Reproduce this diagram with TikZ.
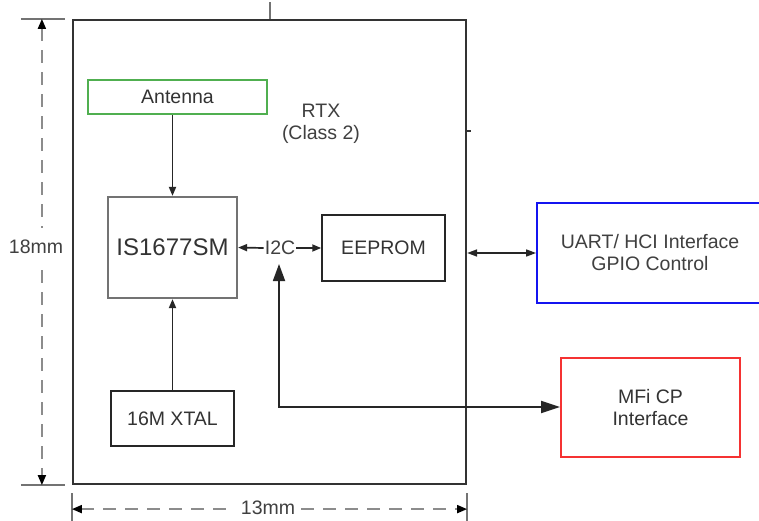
\documentclass[tikz,border=0pt]{standalone}
\usepackage{fontspec}
\setmainfont{Liberation Sans}
\usetikzlibrary{arrows.meta,positioning}
\definecolor{antgreen}{RGB}{80,175,80}
\definecolor{uartblue}{RGB}{20,20,240}
\definecolor{mfired}{RGB}{245,50,50}
\tikzset{
      blockbox/.style={
        draw=black!85,
        line width=1.5pt,
        fill=white,
        align=center,
        inner sep=0pt,
        text=black!80,
        font=\fontsize{19.5}{22}\selectfont
      },
      labeltext/.style={
        align=center,
        inner sep=1pt,
        text=black!75,
        font=\fontsize{19.5}{22}\selectfont
      },
      dimline/.style={draw=black!55, line width=1.8pt},
      dimarrow/.style={
        draw=black!45,
        line width=1.8pt,
        dash pattern=on 13pt off 9pt,
        {Triangle[length=10pt,width=8pt,color=black]}-{Triangle[length=10pt,width=8pt,color=black]}
      },
      linkarrow/.style={
        draw=black!85,
        line width=1.7pt,
        -{Triangle[length=9pt,width=7pt]}
      }
    }

\begin{document}
\begin{tikzpicture}[x=1pt,y=-1pt]
    \useasboundingbox (0,0) rectangle (759,521);
    % module outline and blocks inside it
    \node[blockbox, draw=black!80, line width=2.2pt, minimum width=393pt, minimum height=464pt] (rtx) at (269.5,252) {};
    \node[blockbox, draw=antgreen, line width=1.8pt, minimum width=179pt, minimum height=34pt] (antenna) at (177.5,97) {Antenna};
    \node[blockbox, draw=black!55, line width=2.2pt, minimum width=129pt, minimum height=101pt, font=\fontsize{24}{26}\selectfont] (ic) at (172.5,247.5) {IS1677SM};
    \node[blockbox, minimum width=123pt, minimum height=66pt] (eeprom) at (383.5,248) {EEPROM};
    \node[blockbox, minimum width=123pt, minimum height=55pt] (xtal) at (172.5,418.5) {16M XTAL};
    \node[labeltext] (rtxlabel) at (321,124) {RTX\\(Class 2)};
    \node[labeltext] (i2c) at (280,248) {I2C};
    % outside interfaces
    \node[blockbox, draw=uartblue, line width=1.8pt, minimum width=226pt, minimum height=100pt, text width=220pt] (uart) at (650,253) {};
    \node[labeltext] (uartlabel) at (650,253) {UART/ HCI Interface\\GPIO Control};
    \node[blockbox, draw=mfired, line width=1.8pt, minimum width=179pt, minimum height=99pt] (mfi) at (650.5,407.5) {MFi CP\\Interface};
    \draw[black!55, line width=2pt] (rtx.north) -- ++(0,-17);
    \draw[black!80, line width=1.4pt] (rtx.east |- 0,131) -- ++(4,0);
    % connectors
    \coordinate (i2cin) at (279,264);
    \coordinate (bend) at (279,407);
    \draw[linkarrow] (ic.north |- antenna.south) -- (ic.north);
    \draw[linkarrow] (xtal.north) -- (ic.south);
    \draw[linkarrow] (i2c.west) -- (ic.east);
    \draw[linkarrow] (i2c.east) -- (eeprom.west);
    \draw[draw=black!85, line width=1.8pt, {Triangle[length=17pt,width=12pt]}-{Triangle[length=19pt,width=12pt]}] (i2cin) -- (bend) -- (bend -| mfi.west);
    \draw[draw=black!85, line width=1.6pt, {Triangle[length=10pt,width=7pt]}-{Triangle[length=10pt,width=7pt]}] (rtx.east |- uart.west) -- (uart.west);
    % dimensions
    \draw[dimline] ([xshift=-51pt]rtx.north west) -- ([xshift=-7pt]rtx.north west);
    \draw[dimline] ([xshift=-51pt]rtx.south west) -- ([xshift=-7pt]rtx.south west);
    \draw[dimarrow] ([xshift=-30pt]rtx.north west) -- ([xshift=-30pt]rtx.south west);
    \node[labeltext, fill=white, inner ysep=12pt] (height) at (36,247) {18mm};
    \draw[dimline] ([yshift=-8pt]rtx.south west) -- ([yshift=-36pt]rtx.south west);
    \draw[dimline] ([yshift=-8pt]rtx.south east) -- ([yshift=-36pt]rtx.south east);
    \draw[dimarrow] ([yshift=-24pt]rtx.south west) -- ([yshift=-24pt]rtx.south east);
    \node[labeltext, fill=white, inner xsep=6pt] (width) at (268,508) {13mm};
    \end{tikzpicture}
\end{document}
